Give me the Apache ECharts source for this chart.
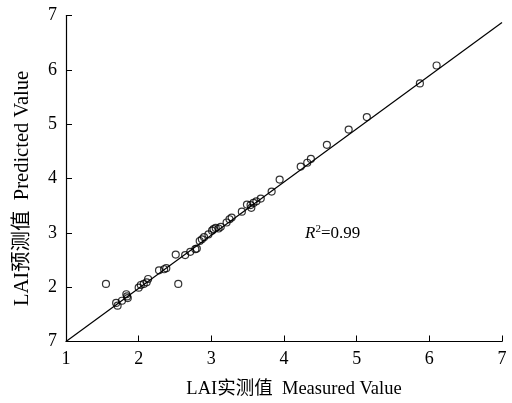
<!DOCTYPE html>
<html>
<head>
<meta charset="utf-8">
<script src="https://cdn.jsdelivr.net/npm/echarts@6/dist/echarts.min.js"></script>
<style>html,body{margin:0;padding:0;background:#fff}#c{width:512px;height:403px}</style>
</head>
<body>
<div id="c"></div>
<script>
var measured = [1.55, 1.69, 1.71, 1.77, 1.83, 1.84, 1.85, 2.00, 2.03, 2.07, 2.11, 2.13, 2.28, 2.35, 2.38, 2.51, 2.545, 2.64, 2.71, 2.78, 2.80, 2.84, 2.87, 2.90, 2.96, 3.01, 3.03, 3.06, 3.10, 3.13, 3.21, 3.25, 3.28, 3.42, 3.49, 3.54, 3.55, 3.58, 3.62, 3.68, 3.83, 3.94, 4.23, 4.32, 4.37, 4.59, 4.89, 5.14, 5.87, 6.10];
var predicted = [2.06, 1.71, 1.66, 1.75, 1.87, 1.83, 1.80, 1.99, 2.04, 2.06, 2.09, 2.15, 2.31, 2.33, 2.35, 2.60, 2.06, 2.59, 2.65, 2.70, 2.71, 2.85, 2.88, 2.92, 2.97, 3.04, 3.07, 3.09, 3.08, 3.11, 3.19, 3.25, 3.28, 3.39, 3.52, 3.51, 3.46, 3.55, 3.58, 3.63, 3.76, 3.98, 4.22, 4.29, 4.36, 4.62, 4.90, 5.13, 5.75, 6.08];
var fitX = [1, 7];
var fitY = [1, 6.87];
var xTickLabels = ['1', '2', '3', '4', '5', '6', '7'];
var yTickLabels = ['7', '2', '3', '4', '5', '6', '7'];
var r2Text = '0.99';

var pts = measured.map(function (x, i) { return [x, predicted[i]]; });
var fit = fitX.map(function (x, i) { return [x, fitY[i]]; });
var serif = '"Liberation Serif", "Times New Roman", "Noto Sans CJK SC", serif';

var chart = echarts.init(document.getElementById('c'));
chart.setOption({
  animation: false,
  backgroundColor: '#fff',
  grid: { left: 66, right: 10, top: 15.5, bottom: 55, containLabel: false },
  xAxis: {
    type: 'value', min: 1, max: 7, interval: 1,
    name: 'LAI实测值  Measured Value', nameLocation: 'middle', nameGap: 38,
    nameTextStyle: { fontFamily: serif, fontSize: 18.5, color: '#000', padding: [0, 0, 0, 20] },
    axisLine: { lineStyle: { color: '#000', width: 1.2 } },
    axisTick: { inside: true, length: 6, lineStyle: { color: '#000' } },
    axisLabel: { fontFamily: serif, fontSize: 18, color: '#000', margin: 9,
      formatter: function (v) { return xTickLabels[Math.round(v) - 1]; } },
    splitLine: { show: false }
  },
  yAxis: {
    type: 'value', min: 1, max: 7, interval: 1,
    name: 'LAI预测值  Predicted Value', nameLocation: 'middle', nameGap: 33,
    nameTextStyle: { fontFamily: serif, fontSize: 20.5, color: '#000', padding: [0, 20, 0, 0] },
    axisLine: { show: true, lineStyle: { color: '#000', width: 1.2 } },
    axisTick: { show: true, inside: true, length: 6, lineStyle: { color: '#000' } },
    axisLabel: { fontFamily: serif, fontSize: 18, color: '#000', margin: 9,
      formatter: function (v) { return yTickLabels[Math.round(v) - 1]; } },
    splitLine: { show: false }
  },
  series: [
    {
      type: 'line', data: fit, symbol: 'none', silent: true,
      lineStyle: { color: '#000', width: 1.2 }
    },
    {
      type: 'scatter', data: pts, symbol: 'circle', symbolSize: 7,
      itemStyle: { color: 'rgba(255,255,255,0)', borderColor: '#000', borderWidth: 1.2 }
    }
  ],
  graphic: [{
    type: 'text', left: 305, top: 224,
    style: {
      text: '{i|R}{s|2}{n|=' + r2Text + '}',
      rich: {
        i: { fontFamily: serif, fontStyle: 'italic', fontSize: 17, fill: '#000' },
        s: { fontFamily: serif, fontSize: 11, fill: '#000', verticalAlign: 'top', padding: [0, 0, 8, 0] },
        n: { fontFamily: serif, fontSize: 17, fill: '#000' }
      }
    }
  }]
});
</script>
</body>
</html>
